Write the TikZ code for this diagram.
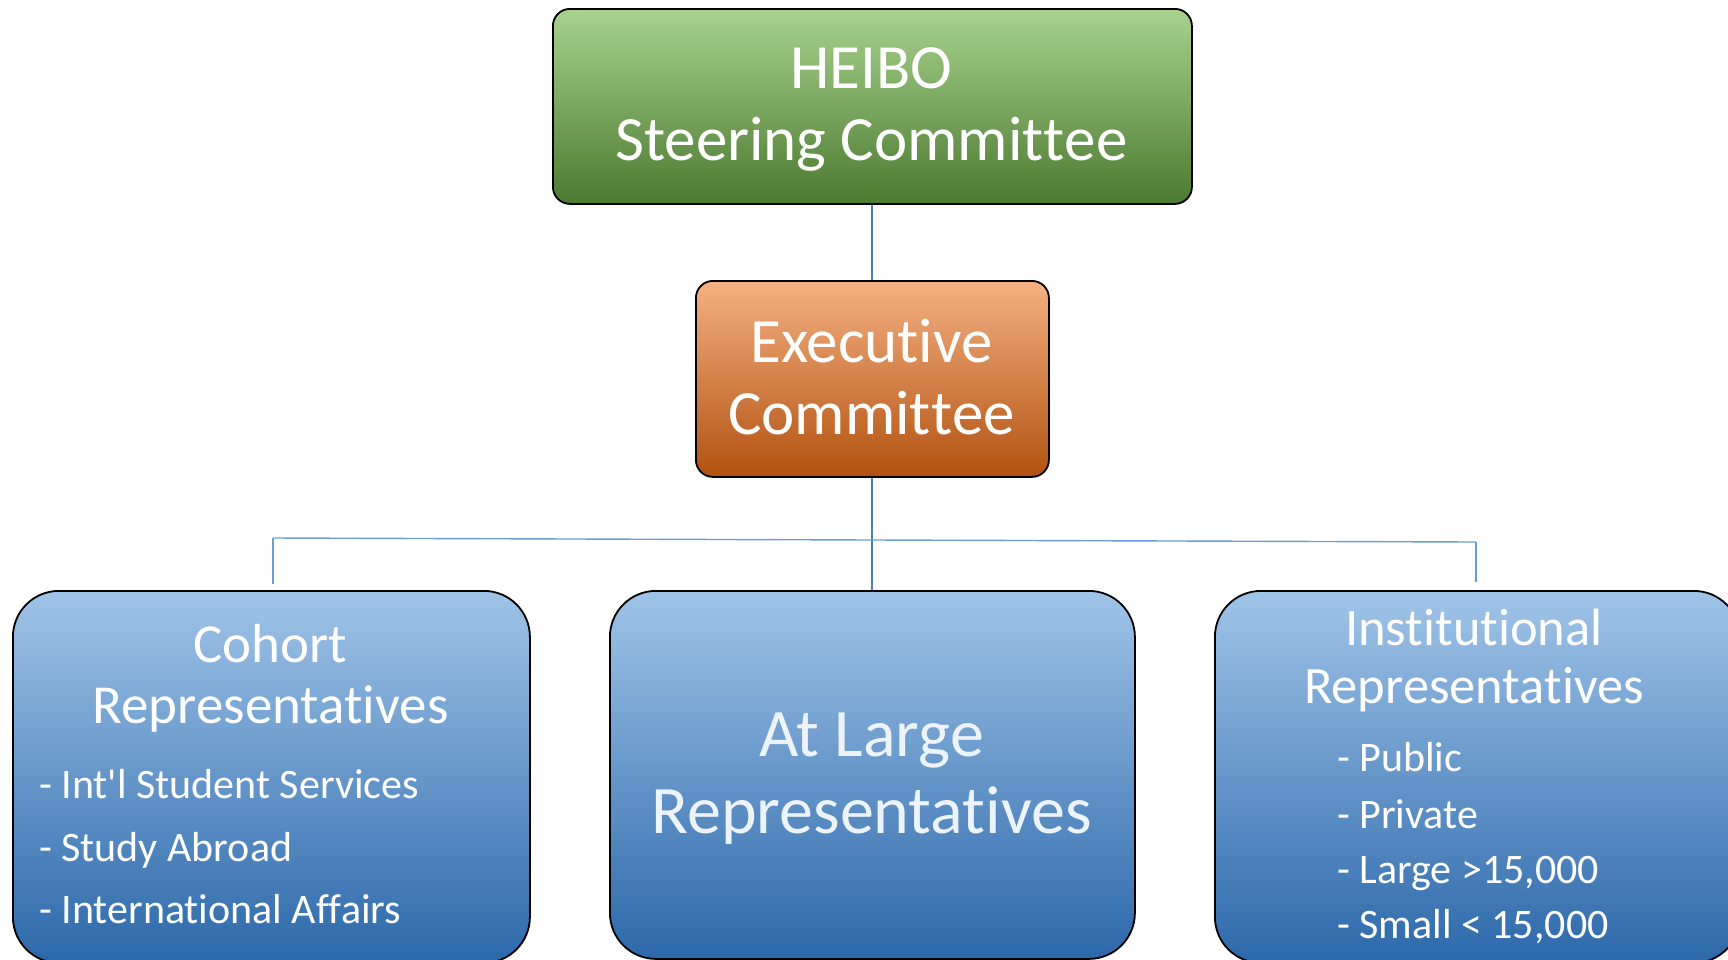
\documentclass[tikz,border=0pt]{standalone}
\usepackage{fontspec}
\setmainfont{Carlito}[Ligatures={NoCommon,NoRequired,NoContextual,NoRare}]
\newcommand\zk{\kern0pt }
\begin{document}
\begin{tikzpicture}[x=1pt,y=-1pt,
  box/.style={draw=black, line width=1.8pt, inner sep=0pt, anchor=north west},
  topbox/.style={box, rounded corners=17pt},
  botbox/.style={box, rounded corners=46pt,
    top color={rgb,255:red,160;green,196;blue,232},
    middle color={rgb,255:red,100;green,158;blue,214},
    bottom color={rgb,255:red,44;green,104;blue,170}},
  greenfill/.style={top color={rgb,255:red,168;green,210;blue,142},
    middle color={rgb,255:red,121;green,180;blue,76},
    bottom color={rgb,255:red,76;green,122;blue,48}},
  orangefill/.style={top color={rgb,255:red,244;green,177;blue,131},
    middle color={rgb,255:red,236;green,127;blue,52},
    bottom color={rgb,255:red,178;green,82;blue,16}},
  lbl/.style={text=white, inner sep=0pt, anchor=base},
  item/.style={text=white, inner sep=0pt, anchor=base west, font=\fontsize{42}{50}\selectfont},
  conn/.style={draw={rgb,255:red,74;green,126;blue,187}, line width=2pt},
  hconn/.style={draw={rgb,255:red,104;green,158;blue,220}, line width=1.4pt}
]
\useasboundingbox (0,0) rectangle (1728,959);
\clip (0,0) rectangle (1728,959);

% boxes
\node[topbox, greenfill, minimum width=639pt, minimum height=195pt] (heibo) at (552,8) {};
\node[topbox, orangefill, minimum width=353pt, minimum height=196pt] (exec) at (695,280) {};
\node[botbox, minimum width=517pt, minimum height=372pt] (cohort) at (12,590) {};
\node[botbox, minimum width=525pt, minimum height=368pt] (atl) at (609,590) {};
\node[botbox, minimum width=525pt, minimum height=372pt] (inst) at (1214,590) {};

% connectors
\coordinate (hl) at (273,538);
\coordinate (hr) at (1476,542);
\coordinate (cl) at (273,584);
\coordinate (ir) at (1476,582);
\draw[conn] (heibo.south) -- (exec.north);
\draw[conn] (exec.south) -- (atl.north);
\draw[hconn] (hl) -- (hr);
\draw[hconn] (hl) -- (cl);
\draw[hconn] (hr) -- (ir);

% texts
\node[lbl, font=\fontsize{63}{72}\selectfont] (t1) at (871.5,88) {HEIBO};
\node[lbl, font=\fontsize{63}{72}\selectfont] (t2) at (871.5,160) {Steering Commit\zk t\zk ee};
\node[lbl, font=\fontsize{63}{72}\selectfont] (t3) at (871.5,362) {Execut\zk ive};
\node[lbl, font=\fontsize{63}{72}\selectfont] (t4) at (871.5,434) {Commit\zk t\zk ee};

\node[lbl, font=\fontsize{55}{61}\selectfont] (c1) at (270.5,662) {Cohort};
\node[lbl, font=\fontsize{55}{61}\selectfont] (c2) at (270.5,723) {Representat\zk ives};
\node[item] (c3) at (39,798) {- Int\textquotesingle l Student Services};
\node[item] (c4) at (39,861) {- Study Abroad};
\node[item] (c5) at (39,923) {- Internat\zk ional Af\zk fairs};

\node[lbl, font=\fontsize{68}{77}\selectfont, text={rgb,255:red,236;green,243;blue,251}] (a1) at (871.5,756) {At Large};
\node[lbl, font=\fontsize{68}{77}\selectfont, text={rgb,255:red,236;green,243;blue,251}] (a2) at (871.5,833) {Representat\zk ives};

\node[lbl, font=\fontsize{52.5}{58}\selectfont] (i1) at (1474,645) {Inst\zk it\zk ut\zk ional};
\node[lbl, font=\fontsize{52.5}{58}\selectfont] (i2) at (1474,703) {Representat\zk ives};
\node[item] (i3) at (1337,771) {- Public};
\node[item] (i4) at (1337,828) {- Private};
\node[item] (i5) at (1337,883) {- Large >15,000};
\node[item] (i6) at (1337,938) {- Small < 15,000};
\end{tikzpicture}
\end{document}
